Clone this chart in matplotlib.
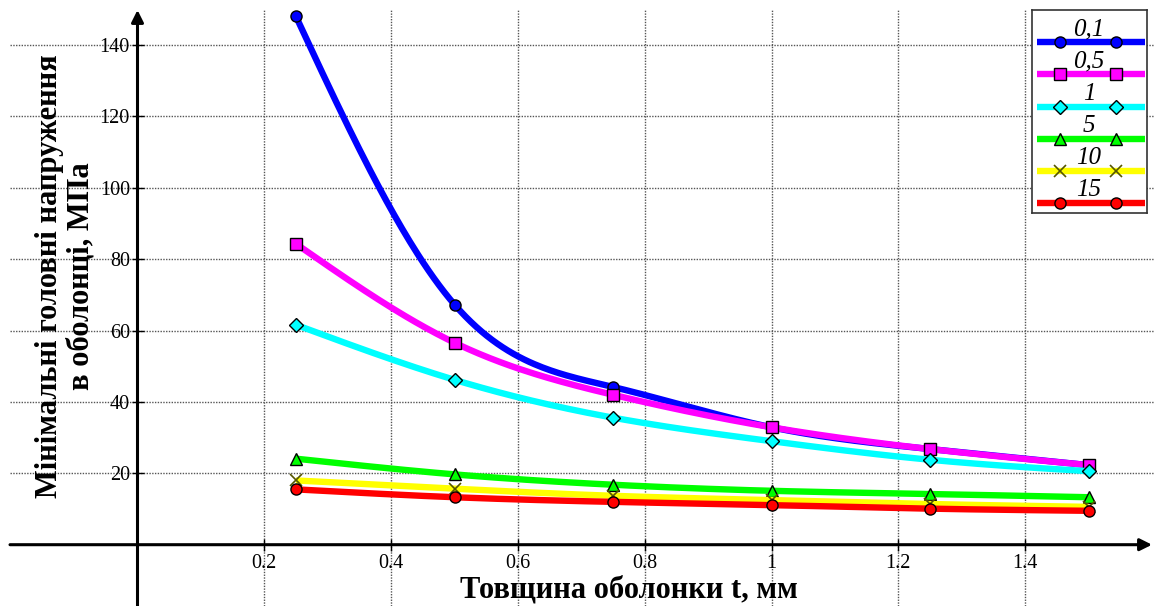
import numpy as np
import matplotlib
matplotlib.use("Agg")
import matplotlib.pyplot as plt

# ---- data ----
t_values = [0.25, 0.5, 0.75, 1.0, 1.25, 1.5]
series_labels = ["0,1", "0,5", "1", "5", "10", "15"]
s_01 = [148.0, 67.3, 44.2, 32.9, 26.8, 22.3]
s_05 = [84.3, 56.6, 42.0, 32.9, 26.8, 22.3]
s_1 = [61.6, 46.2, 35.6, 29.0, 23.8, 20.6]
s_5 = [24.1, 19.7, 16.8, 15.1, 14.2, 13.3]
s_10 = [18.0, 15.7, 13.7, 12.5, 11.4, 10.6]
s_15 = [15.5, 13.3, 12.0, 11.1, 10.1, 9.5]
y_ticks = [20, 40, 60, 80, 100, 120, 140]
x_ticks = [0.2, 0.4, 0.6, 0.8, 1.0, 1.2, 1.4]
x_tick_labels = ["0.2", "0.4", "0.6", "0.8", "1", "1.2", "1.4"]

series = [s_01, s_05, s_1, s_5, s_10, s_15]
colors = ["#0000ff", "#ff00ff", "#00ffff", "#00ff00", "#ffff00", "#ff0000"]
markers = ["o", "s", "D", "^", "x", "o"]
msizes = [8, 8, 7, 8, 8, 8]
LW = 4.6


def natural_spline(x, y, xs):
    x = np.asarray(x, float)
    y = np.asarray(y, float)
    n = len(x)
    h = np.diff(x)
    A = np.zeros((n, n))
    b = np.zeros(n)
    A[0, 0] = 1
    A[-1, -1] = 1
    for i in range(1, n - 1):
        A[i, i - 1] = h[i - 1]
        A[i, i] = 2 * (h[i - 1] + h[i])
        A[i, i + 1] = h[i]
        b[i] = 6 * ((y[i + 1] - y[i]) / h[i] - (y[i] - y[i - 1]) / h[i - 1])
    M = np.linalg.solve(A, b)
    out = np.empty_like(xs)
    for k, xv in enumerate(xs):
        i = min(max(np.searchsorted(x, xv) - 1, 0), n - 2)
        a = x[i + 1] - xv
        c = xv - x[i]
        out[k] = (M[i] * a ** 3 / (6 * h[i]) + M[i + 1] * c ** 3 / (6 * h[i])
                  + (y[i] / h[i] - M[i] * h[i] / 6) * a
                  + (y[i + 1] / h[i] - M[i + 1] * h[i] / 6) * c)
    return out


plt.rcParams['font.family'] = ['Liberation Serif', 'DejaVu Serif']

fig = plt.figure(figsize=(11.54, 6.06), dpi=100)
ax = fig.add_axes([0, 0, 1, 1])
x0px, xscale = 137.5, 634.0
y0px, yscale = 544.7, 3.569
ax.set_xlim(-x0px / xscale, (1154 - x0px) / xscale)
ax.set_ylim((y0px - 606) / yscale, y0px / yscale)
for s in ax.spines.values():
    s.set_visible(False)

# grid
ytop_grid = (y0px - 10) / yscale
xleft_grid = (10 - x0px) / xscale
ax.vlines(x_ticks, ax.get_ylim()[0], ytop_grid, colors="#555555",
          linestyles=(0, (1, 1)), linewidth=1.0, zorder=1)
ax.hlines(y_ticks, xleft_grid, ax.get_xlim()[1], colors="#555555",
          linestyles=(0, (1, 1)), linewidth=1.0, zorder=1)

# axes with arrows
ax.annotate("", xy=(0, (y0px - 10) / yscale), xytext=(0, ax.get_ylim()[0]),
            arrowprops=dict(arrowstyle="-|>", color="black", lw=2.2,
                            mutation_scale=18, shrinkA=0, shrinkB=0), zorder=3)
ax.annotate("", xy=((1152 - x0px) / xscale, 0), xytext=(xleft_grid, 0),
            arrowprops=dict(arrowstyle="-|>", color="black", lw=2.2,
                            mutation_scale=18, shrinkA=0, shrinkB=0), zorder=3)

# ticks
ax.set_xticks(x_ticks)
ax.set_xticklabels(x_tick_labels)
ax.set_yticks(y_ticks)
ax.tick_params(axis='both', direction='inout', length=9, width=1.0, labelsize=14.5,
               colors='black')
for lab in ax.get_xticklabels():
    lab.set_color('#222222')
for lab in ax.get_yticklabels():
    lab.set_color('#222222')
ax.xaxis.set_ticks_position('bottom')
ax.yaxis.set_ticks_position('left')
ax.spines['bottom'].set_position(('data', 0))
ax.spines['left'].set_position(('data', 0))
ax.tick_params(axis='y', pad=1)
ax.tick_params(axis='x', pad=2)

# curves
xs = np.linspace(t_values[0], t_values[-1], 300)
for i, (vals, col, mk, ms) in enumerate(zip(series, colors, markers, msizes)):
    ys = natural_spline(t_values, vals, xs)
    ax.plot(xs, ys, color=col, linewidth=LW, solid_capstyle='butt', zorder=4 + i)
    if mk == 'x':
        ax.plot(t_values, vals, linestyle='none', marker=mk, markersize=ms,
                markeredgecolor='#555500', markeredgewidth=1.2, zorder=4 + i)
    else:
        ax.plot(t_values, vals, linestyle='none', marker=mk, markersize=ms,
                markerfacecolor=col, markeredgecolor='black', markeredgewidth=1.0,
                zorder=4 + i)

# labels
fig.text(629 / 1154, 1 - 590 / 606, "Товщина оболонки t, мм", ha='center', va='center',
         fontsize=22, fontweight='bold')
fig.text(65 / 1154, 1 - 276 / 606, "Мінімальні головні напруження\nв оболонці, МПа",
         ha='center', va='center', rotation=90, fontsize=22, fontweight='bold',
         linespacing=1.1)

# legend (manual)
lx0, lx1, ly0, ly1 = 1032, 1147, 10, 213
lax = fig.add_axes([lx0 / 1154, 1 - ly1 / 606, (lx1 - lx0) / 1154, (ly1 - ly0) / 606])
lax.set_xlim(lx0, lx1)
lax.set_ylim(ly1, ly0)
lax.set_xticks([])
lax.set_yticks([])
lax.set_facecolor('white')
for s in lax.spines.values():
    s.set_linewidth(1.2)
    s.set_color('#333333')
line_y = [42, 74, 107, 139, 171, 203]
for lab, col, mk, ms, yy in zip(series_labels, colors, markers, msizes, line_y):
    lax.plot([1037, 1145], [yy, yy], color=col, linewidth=LW, solid_capstyle='butt')
    if mk == 'x':
        lax.plot([1060, 1116], [yy, yy], linestyle='none', marker=mk, markersize=ms,
                 markeredgecolor='#555500', markeredgewidth=1.2)
    else:
        lax.plot([1060, 1116], [yy, yy], linestyle='none', marker=mk, markersize=ms,
                 markerfacecolor=col, markeredgecolor='black', markeredgewidth=1.0)
    lax.text(1089, yy - 7, lab, ha='center', va='baseline', fontsize=18, style='italic')

fig.savefig("out.png", dpi=100)
